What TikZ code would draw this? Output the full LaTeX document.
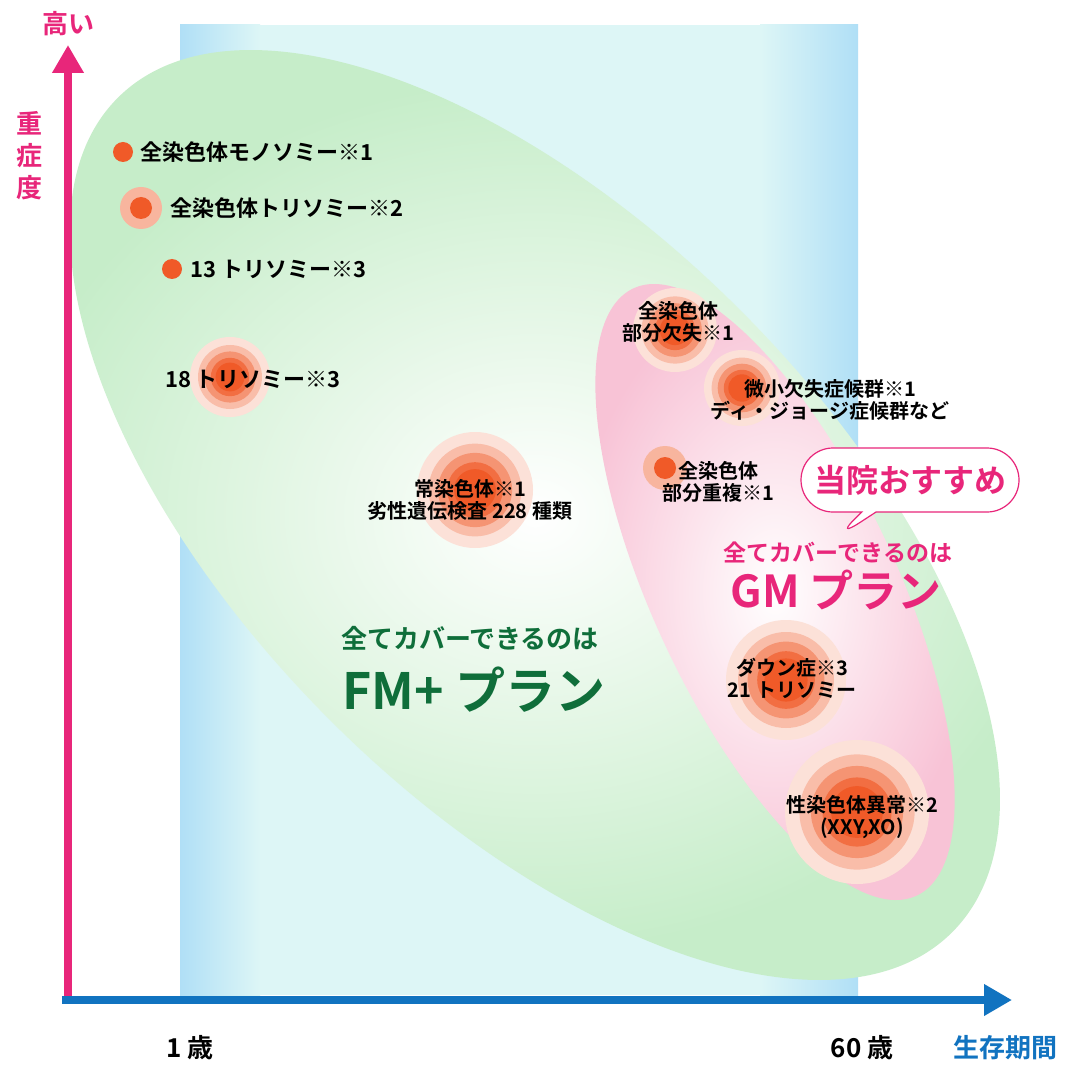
\documentclass[tikz,border=0pt]{standalone}
\usepackage{fontspec}
\setmainfont{Noto Sans CJK JP}[BoldFont={Noto Sans CJK JP Bold}]
\usetikzlibrary{shapes.callouts}
\definecolor{mag}{HTML}{E8267A}
\definecolor{axb}{HTML}{1173C0}
\definecolor{org}{HTML}{F05A28}
\definecolor{gr}{HTML}{C6EDC9}
\definecolor{pk}{HTML}{F8C3D6}
\definecolor{dg}{HTML}{0F6E3A}
\definecolor{bedge}{HTML}{B0DFF6}
\definecolor{bmid}{HTML}{DDF6F6}
\tikzset{lab/.style={font=\bfseries\fontsize{10}{11}\selectfont,align=center,text=black,inner sep=0pt},
ax/.style={line width=4pt,-{Triangle[length=14pt,width=15pt]}}}
\usetikzlibrary{arrows.meta}
\newcommand{\blob}[3]{% name, center, radius
 \fill[org!18] #2 circle ({#3});
 \fill[org!40] #2 circle ({#3*0.8});
 \fill[org!65] #2 circle ({#3*0.64});
 \fill[org!88] #2 circle ({#3*0.48});
 \fill[org] #2 circle ({#3*0.36});
 \coordinate (#1) at #2;}
\begin{document}
\begin{tikzpicture}[x=0.5pt,y=-0.5pt]
\useasboundingbox (0,0) rectangle (1080,1080);
\fill[white] (0,0) rectangle (1080,1080);
% band
\fill[bmid] (180,25) rectangle (858,995);
\shade[left color=bedge, right color=bmid] (180,25) rectangle (260,995);
\shade[left color=bmid, right color=bedge] (760,25) rectangle (858,995);
% green ellipse
\shade[inner color=white, outer color=gr, rotate around={-45:(535,515)}] (535,515) ellipse (590 and 290);
% pink ellipse
\shade[inner color=white, outer color=pk, rotate around={-65:(775,592)}] (775,592) ellipse (335 and 122);
% axes
\coordinate (o) at (68,1000);
\coordinate (yt) at (68,45);
\coordinate (xs) at (62,1000);
\coordinate (xt) at (1012,1000);
\draw[ax,mag] (o) -- (yt);
\draw[ax,axb] (xs) -- (xt);
\node[text=mag,font=\bfseries\fontsize{13}{13}\selectfont] (hi) at (68,24) {高い};
\node[text=mag,font=\bfseries\fontsize{13}{16}\selectfont,align=center] (sev) at (30,156) {重\\症\\度};
\node[font=\bfseries\fontsize{13}{13}\selectfont] (a1) at (190,1048) {1 歳};
\node[font=\bfseries\fontsize{13}{13}\selectfont] (a60) at (862,1048) {60 歳};
\node[text=axb,font=\bfseries\fontsize{13}{13}\selectfont] (surv) at (1005,1048) {生存期間};
% dots
\fill[org] (123,152) circle (10); \node[lab,anchor=west,font=\bfseries\fontsize{11}{12}\selectfont] (t1) at (140,152) {全染色体モノソミー※1};
\fill[org!45] (141,208) circle (21); \fill[org] (141,208) circle (11);
\node[lab,anchor=west,font=\bfseries\fontsize{11}{12}\selectfont] (t2) at (170,208) {全染色体トリソミー※2};
\fill[org] (172,269) circle (10); \node[lab,anchor=west,font=\bfseries\fontsize{11}{12}\selectfont] (t3) at (190,269) {13 トリソミー※3};
\blob{b4}{(230,377)}{40}
\node[lab,font=\bfseries\fontsize{11}{12}\selectfont] (t4) at (253,379) {18 トリソミー※3};
\blob{b5}{(475,490)}{58}
\node[lab] (t5) at (470,500) {常染色体※1\\劣性遺伝検査 228 種類};
\blob{b6}{(675,330)}{42}
\node[lab] (t6) at (678,322) {全染色体\\部分欠失※1};
\blob{b7}{(742,388)}{38}
\node[lab] (t7) at (830,400) {微小欠失症候群※1\\ディ・ジョージ症候群など};
\fill[org!45] (665,468) circle (22); \fill[org] (665,468) circle (11);
\node[lab] (t8) at (718,482) {全染色体\\部分重複※1};
\blob{b9}{(786,680)}{60}
\node[lab] (t9) at (792,678) {ダウン症※3\\21 トリソミー};
\blob{b10}{(857,812)}{72}
\node[lab] (t10) at (862,817) {性染色体異常※2\\(XXY,XO)};
% plans
\node[text=dg,font=\bfseries\fontsize{13}{14}\selectfont] (fm1) at (470,638) {全てカバーできるのは};
\node[text=dg,font=\bfseries\fontsize{25}{26}\selectfont] (fm2) at (474,690) {FM+ プラン};
\node[text=mag,font=\bfseries\fontsize{11.5}{12}\selectfont] (gm1) at (838,552) {全てカバーできるのは};
\node[text=mag,font=\bfseries\fontsize{22}{23}\selectfont] (gm2) at (836,590) {GM プラン};
\node[draw=mag,fill=white,line width=0.6pt,rectangle callout,rounded corners=16pt,minimum width=109pt,minimum height=32pt,
 callout absolute pointer={(833,540)},text=mag,font=\bfseries\fontsize{16}{16}\selectfont] (rec) at (910,480) {当院おすすめ};
\end{tikzpicture}
\end{document}
